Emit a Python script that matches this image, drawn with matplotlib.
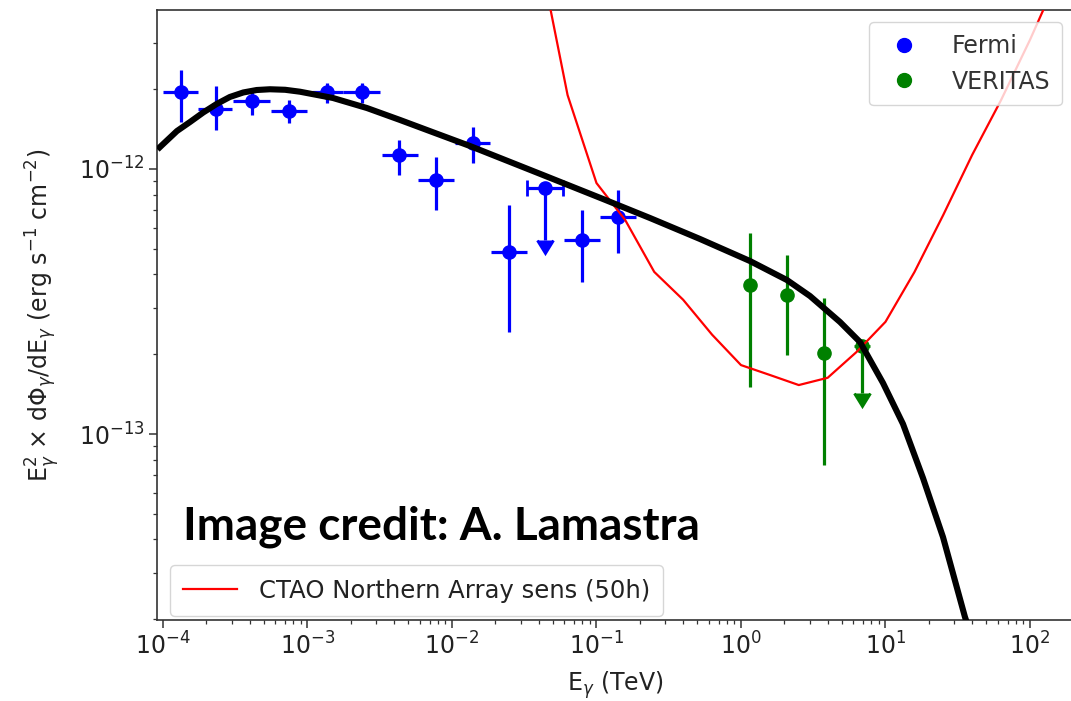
import numpy as np
import matplotlib
matplotlib.use("Agg")
import matplotlib.pyplot as plt
from matplotlib.lines import Line2D
from matplotlib.ticker import FixedLocator, LogLocator, NullFormatter

# ---------------- data ----------------
# Fermi points (TeV, erg s^-1 cm^-2)
fermi_E = [1.33e-4, 2.32e-4, 4.11e-4, 7.48e-4, 1.36e-3, 2.39e-3, 4.32e-3,
           7.74e-3, 1.39e-2, 2.48e-2, 4.40e-2, 7.90e-2, 1.42e-1]
fermi_Elo = [1.00e-4, 1.75e-4, 3.05e-4, 5.56e-4, 1.07e-3, 1.77e-3, 3.26e-3,
             5.83e-3, 1.05e-2, 1.85e-2, 3.32e-2, 5.94e-2, 1.06e-1]
fermi_Ehi = [1.75e-4, 2.99e-4, 5.50e-4, 1.00e-3, 1.77e-3, 3.18e-3, 5.79e-3,
             1.03e-2, 1.83e-2, 3.29e-2, 5.89e-2, 1.06e-1, 1.88e-1]
fermi_F = [1.945e-12, 1.69e-12, 1.81e-12, 1.66e-12, 1.96e-12, 1.96e-12, 1.13e-12,
           9.09e-13, 1.25e-12, 4.87e-13, 8.46e-13, 5.40e-13, 6.61e-13]
fermi_Fhi = [2.37e-12, 2.05e-12, 1.96e-12, 1.82e-12, 2.11e-12, 2.11e-12, 1.29e-12,
             1.11e-12, 1.445e-12, 7.31e-13, 8.46e-13, 7.00e-13, 8.33e-13]
fermi_Flo = [1.51e-12, 1.40e-12, 1.60e-12, 1.49e-12, 1.77e-12, 1.77e-12, 9.49e-13,
             7.00e-13, 1.05e-12, 2.43e-13, 5.40e-13, 3.76e-13, 4.81e-13]
fermi_ul = [False, False, False, False, False, False, False,
            False, False, False, True, False, False]

# VERITAS points
ver_E = [1.154, 2.07, 3.75, 6.84]
ver_F = [3.65e-13, 3.35e-13, 2.02e-13, 2.14e-13]
ver_Fhi = [5.75e-13, 4.74e-13, 3.25e-13, 2.14e-13]
ver_Flo = [1.51e-13, 1.99e-13, 7.64e-14, 1.424e-13]
ver_ul = [False, False, False, True]

# Model SED (black curve)
model_E = [9.16e-5, 9.79e-5, 1.25e-4, 1.538e-4, 1.90e-4, 2.352e-4, 2.90e-4,
           3.594e-4, 4.45e-4, 5.50e-4, 7.00e-4, 8.87e-4, 1.501e-3, 2.581e-3,
           4.366e-3, 7.627e-3, 1.332e-2, 4.264e-2, 0.1109, 0.2345, 0.5204,
           1.154, 2.081, 3.002, 4.843, 6.661, 9.61, 13.22, 18.18, 25.0,
           35.49, 37.24]
model_F = [1.185e-12, 1.227e-12, 1.391e-12, 1.504e-12, 1.634e-12, 1.759e-12,
           1.869e-12, 1.944e-12, 1.986e-12, 1.999e-12, 1.990e-12, 1.957e-12,
           1.853e-12, 1.698e-12, 1.531e-12, 1.367e-12, 1.221e-12, 9.49e-13,
           7.706e-13, 6.532e-13, 5.443e-13, 4.495e-13, 3.81e-13, 3.317e-13,
           2.647e-13, 2.224e-13, 1.558e-13, 1.091e-13, 6.823e-14, 4.086e-14,
           2.039e-14, 1.886e-14]

# CTAO North sensitivity (50h)
ctao_E = [0.0398, 0.0631, 0.1, 0.158, 0.251, 0.398, 0.631, 1.0, 1.585, 2.512,
          3.981, 6.31, 10.0, 15.85, 25.12, 39.81, 63.1, 100.0, 158.5]
ctao_F = [6.7e-12, 1.90e-12, 8.85e-13, 6.42e-13, 4.09e-13, 3.21e-13, 2.37e-13,
          1.82e-13, 1.67e-13, 1.53e-13, 1.63e-13, 2.04e-13, 2.65e-13, 4.08e-13,
          6.71e-13, 1.13e-12, 1.82e-12, 3.07e-12, 5.4e-12]

xticks = [1e-4, 1e-3, 1e-2, 1e-1, 1e0, 1e1, 1e2]
yticks = [1e-13, 1e-12]
xlim = (9.09e-5, 198.5)
ylim = (1.987e-14, 3.98e-12)

# ---------------- plot ----------------
plt.rcParams['font.family'] = ['DejaVu Sans']
fig = plt.figure(figsize=(10.71, 7.01), dpi=100)
ax = fig.add_axes([157/1071, 81/701, 916/1071, 610/701])
ax.set_xscale('log')
ax.set_yscale('log')

fE = np.array(fermi_E); fF = np.array(fermi_F)
fxerr = np.array([fE - np.array(fermi_Elo), np.array(fermi_Ehi) - fE])
fyerr = np.array([fF - np.array(fermi_Flo), np.array(fermi_Fhi) - fF])
ful = np.array(fermi_ul)

eb_kw = dict(fmt='o', ms=9.5, elinewidth=2.3, zorder=2)
ax.errorbar(fE[~ful], fF[~ful], xerr=fxerr[:, ~ful], yerr=fyerr[:, ~ful],
            color='#0000ff', capsize=0, **eb_kw)
ax.errorbar(fE[ful], fF[ful], xerr=fxerr[:, ful], yerr=fyerr[0, ful],
            uplims=True, color='#0000ff', capsize=6, capthick=2, **eb_kw)

vE = np.array(ver_E); vF = np.array(ver_F)
vyerr = np.array([vF - np.array(ver_Flo), np.array(ver_Fhi) - vF])
vul = np.array(ver_ul)
ax.errorbar(vE[~vul], vF[~vul], yerr=vyerr[:, ~vul],
            color='#008000', capsize=0, **eb_kw)
ax.errorbar(vE[vul], vF[vul], yerr=vyerr[0, vul], uplims=True,
            color='#008000', capsize=6, capthick=2, **eb_kw)

ctao_line, = ax.plot(ctao_E, ctao_F, color='red', lw=1.6, zorder=3,
                     label='CTAO Northern Array sens (50h)')
ax.plot(model_E, model_F, color='black', lw=4.4, zorder=4,
        solid_capstyle='butt', solid_joinstyle='round')

ax.set_xlim(*xlim)
ax.set_ylim(*ylim)
ax.xaxis.set_major_locator(FixedLocator(xticks))
ax.yaxis.set_major_locator(FixedLocator(yticks))
ax.xaxis.set_minor_locator(LogLocator(base=10, subs=np.arange(2, 10)))
ax.yaxis.set_minor_locator(LogLocator(base=10, subs=np.arange(2, 10)))
ax.xaxis.set_minor_formatter(NullFormatter())
ax.yaxis.set_minor_formatter(NullFormatter())
ax.set_xlim(*xlim)
ax.set_ylim(*ylim)

for sp in ax.spines.values():
    sp.set_color('#333333')
    sp.set_linewidth(1.2)
ax.tick_params(which='major', direction='out', length=5.5, width=1.1,
               labelsize=17, colors='#333333', labelcolor='#222222')
ax.tick_params(which='minor', direction='out', length=3, width=0.9,
               colors='#333333')

ax.set_xlabel(r'E$_\gamma$ (TeV)', fontsize=17, color='#222222', labelpad=7)
ax.set_ylabel(r'E$_\gamma^2$ $\times$ d$\Phi_\gamma$/dE$_\gamma$ (erg s$^{-1}$ cm$^{-2}$)',
              fontsize=17, color='#222222', labelpad=12)

h_fermi = Line2D([], [], marker='o', color='#0000ff', ls='none', ms=10)
h_ver = Line2D([], [], marker='o', color='#008000', ls='none', ms=10)
leg1 = ax.legend([h_fermi, h_ver], ['Fermi', 'VERITAS'], loc='upper right',
                 bbox_to_anchor=((1062 - 157) / 916, (620 - 22) / 610),
                 borderaxespad=0, fontsize=17, handletextpad=1.0,
                 borderpad=0.5, labelcolor='#333333', numpoints=1)
ax.add_artist(leg1)
ax.legend([ctao_line], ['CTAO Northern Array sens (50h)'], loc='lower left',
          bbox_to_anchor=((170 - 157) / 916, (620 - 616) / 610),
          borderaxespad=0, fontsize=17.5, handlelength=2.2, handletextpad=0.9,
          borderpad=0.55, labelcolor='#222222')

fig.text(183/1071, 1 - 539/701, 'Image credit: A. Lamastra',
         fontsize=33, fontweight='bold', family=['Lato', 'DejaVu Sans'],
         color='black', va='baseline', ha='left')

fig.savefig('out.png', dpi=100)
